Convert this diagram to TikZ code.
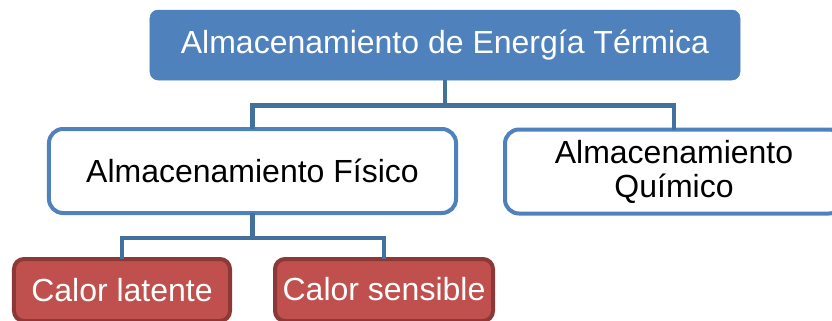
\documentclass[tikz,border=0pt]{standalone}
\usepackage{fontspec}
\setmainfont{Liberation Sans}
\definecolor{topblue}{HTML}{4F81BD}
\definecolor{linkblue}{HTML}{41719C}
\definecolor{redfill}{HTML}{C0504D}
\definecolor{redline}{HTML}{8C3836}
\tikzset{
  boxtext/.style={font=\fontsize{32bp}{34bp}\selectfont, inner sep=0pt, outer sep=0pt},
  topbox/.style={boxtext, fill=topblue, draw=topblue, line width=0.5bp, rounded corners=8bp, text=white},
  bluebox/.style={boxtext, fill=white, draw=topblue, line width=4bp, rounded corners=14bp, text=black, align=center},
  redbox/.style={boxtext, fill=redfill, draw=redline, line width=4bp, rounded corners=10bp, text=white},
  link/.style={draw=linkblue, line width=4.5bp}
}
\begin{document}
\begin{tikzpicture}[x=1bp, y=-1bp]
\useasboundingbox (0,0) rectangle (832,320);
\fill[white] (0,0) rectangle (832,320);
\clip (0,0) rectangle (832,320);
% nodes
\node[topbox, minimum width=590bp, minimum height=70bp] (top) at (445,45) {Almacenamiento de Energía Térmica};
\node[bluebox, minimum width=407bp, minimum height=84bp] (fis) at (252.5,171) {Almacenamiento Físico};
\node[bluebox, minimum width=338bp, minimum height=84bp] (qui) at (674,171.5) {Almacenamiento\\Químico};
\node[redbox, minimum width=216bp, minimum height=62bp] (lat) at (122,290) {Calor latente};
\node[redbox, minimum width=218bp, minimum height=62bp] (sen) at (384,290) {\raisebox{2bp}{Calor sensible}};
% connectors
\draw[link] (top.south) -- ++(0,25.5) coordinate (tj) -| (fis.north);
\draw[link] (tj) -| (qui.north);
\draw[link] (fis.south) -- ++(0,25) coordinate (bj) -| (lat.north);
\draw[link] (bj) -| (sen.north);
\end{tikzpicture}
\end{document}
